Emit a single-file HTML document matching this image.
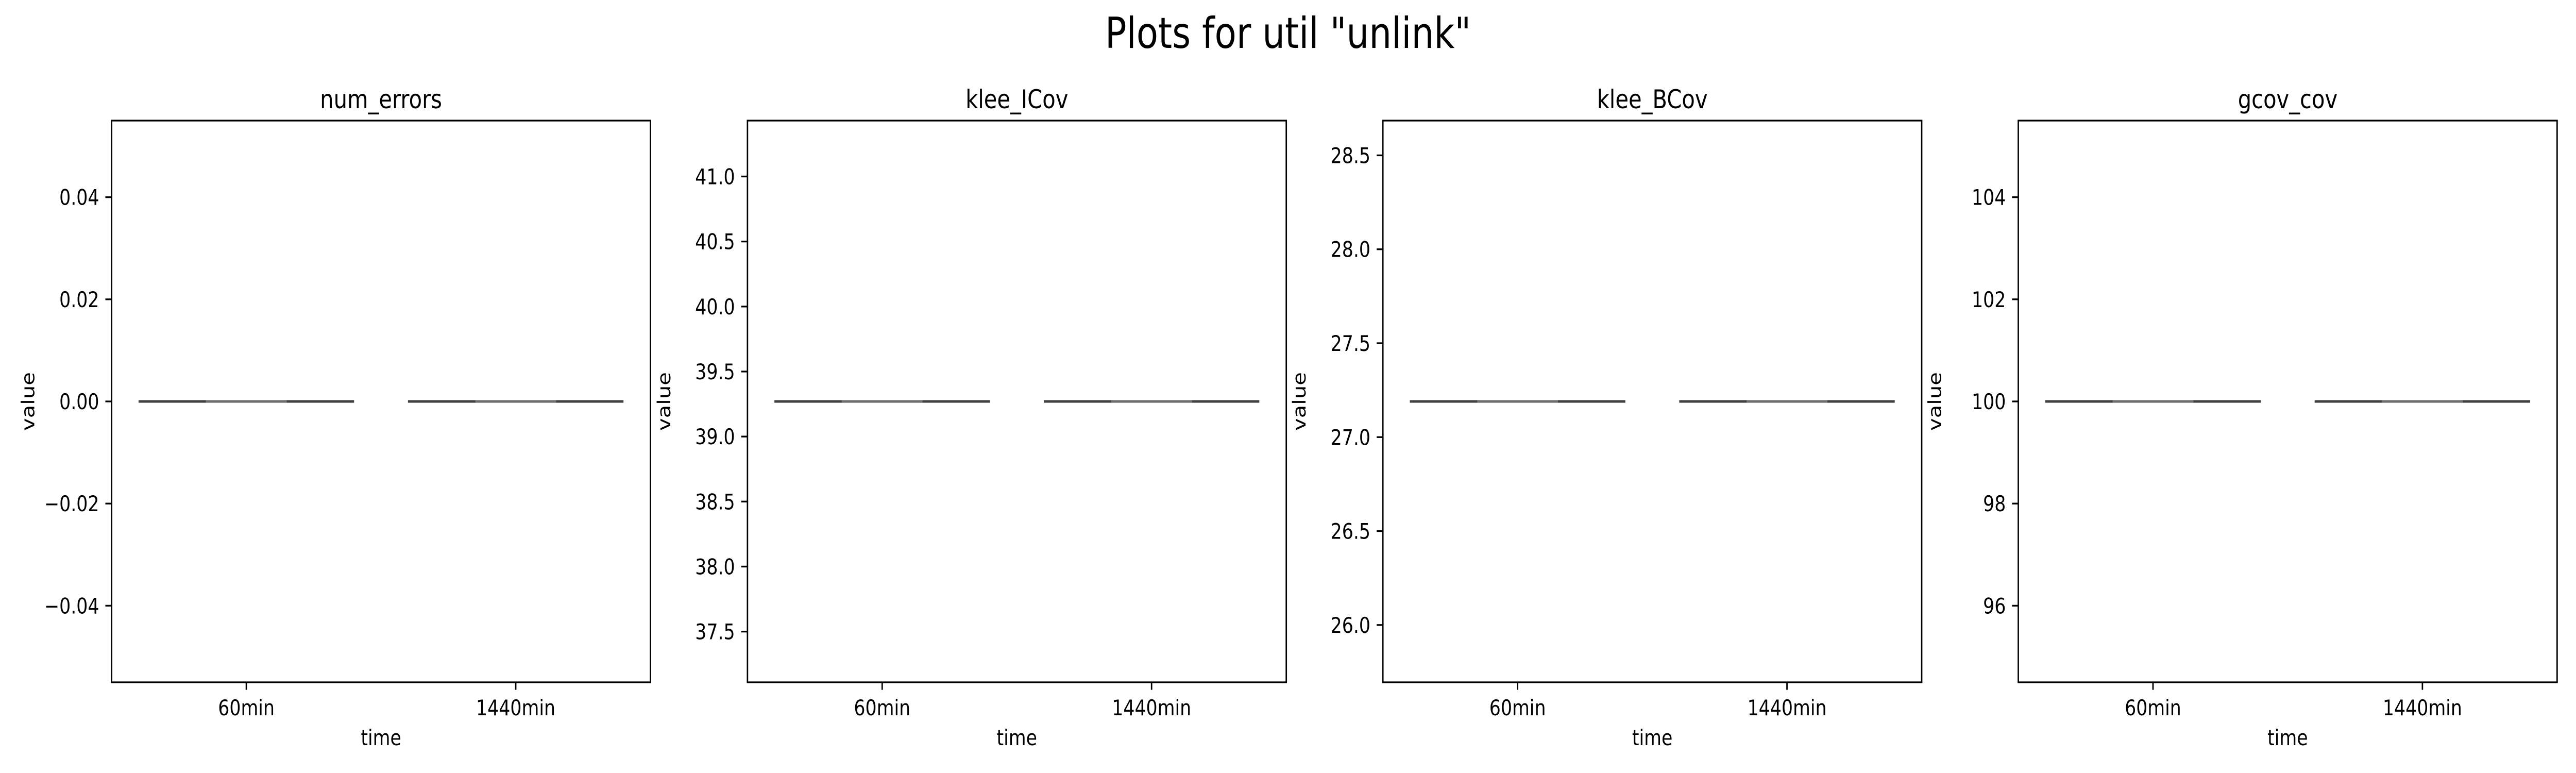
<!DOCTYPE html>
<html><head><meta charset="utf-8"><style>
html,body{margin:0;padding:0;background:#fff;overflow:hidden;width:100%;height:100%;}
svg{display:block;width:100vw;height:100vh;font-family:"DejaVu Sans","Liberation Sans",sans-serif;}
</style></head><body>
<svg id="fig" viewBox="0 0 6000 1500" preserveAspectRatio="none" xmlns="http://www.w3.org/2000/svg">
<rect width="6000" height="1500" fill="#fff"/>
<text x="3000" y="93" font-size="83" text-anchor="middle" fill="#000">Plots for util "unlink"</text>
</svg>
<script>
const panelTitles = ["num_errors", "klee_ICov", "klee_BCov", "gcov_cov"];
const categories = ["60min", "1440min"];
const values60 = [0, 39.27, 27.19, 100];
const values1440 = [0, 39.27, 27.19, 100];
const yTickLabels = [
  ["\u22120.04", "\u22120.02", "0.00", "0.02", "0.04"],
  ["37.5", "38.0", "38.5", "39.0", "39.5", "40.0", "40.5", "41.0"],
  ["26.0", "26.5", "27.0", "27.5", "28.0", "28.5"],
  ["96", "98", "100", "102", "104"]
];
const yTickValues = [
  [-0.04, -0.02, 0, 0.02, 0.04],
  [37.5, 38.0, 38.5, 39.0, 39.5, 40.0, 40.5, 41.0],
  [26.0, 26.5, 27.0, 27.5, 28.0, 28.5],
  [96, 98, 100, 102, 104]
];
const yMin = [-0.055, 37.11, 25.695, 94.5];
const yMax = [0.055, 41.43, 28.685, 105.5];

const NS = "http://www.w3.org/2000/svg";
const svg = document.getElementById("fig");
function mk(tag, attrs, parent) {
  const e = document.createElementNS(NS, tag);
  for (const k in attrs) e.setAttribute(k, attrs[k]);
  (parent || svg).appendChild(e);
  return e;
}
const axLefts = [260, 1741, 3221, 4701];
const axW = 1255, axTop = 234, axBot = 1324;

panelTitles.forEach((title, i) => {
  const L = axLefts[i];
  const g = mk("g", {});
  
  
  const yS = v => axBot - (v - yMin[i]) / (yMax[i] - yMin[i]) * (axBot - axTop);
  const xS = c => L + (c + 0.5) / categories.length * axW;
  const band = axW / categories.length;

  const vals = [values60[i], values1440[i]];
  categories.forEach((cat, c) => {
    const cx = xS(c), y = yS(vals[c]);
    const ln = mk("line", {x1: cx - band * 0.4, x2: cx + band * 0.4, y1: y, y2: y, stroke: "#404040", "stroke-width": 5}, g);
    
    
    const inner = mk("line", {x1: cx - band * 0.15, x2: cx + band * 0.15, y1: y, y2: y, stroke: "#c8c8c8", "stroke-width": 6, "stroke-opacity": 0.35}, g);
    
    

    const tk = mk("line", {x1: cx, x2: cx, y1: axBot, y2: axBot + 14.6, stroke: "#000", "stroke-width": 3.3}, g);
    
    
    const tl = mk("text", {x: cx, y: axBot + 64, "font-size": 41.7, "text-anchor": "middle", fill: "#000"}, g);
    tl.textContent = cat;
    
    
  });

  yTickValues[i].forEach((v, k) => {
    const y = yS(v);
    const tk = mk("line", {x1: L - 14.6, x2: L, y1: y, y2: y, stroke: "#000", "stroke-width": 3.3}, g);
    
    
    const tl = mk("text", {x: L - 29, y: y + 15, "font-size": 41.7, "text-anchor": "end", fill: "#000"}, g);
    tl.textContent = yTickLabels[i][k];
    
    
  });

  const frame = mk("rect", {x: L, y: axTop, width: axW, height: axBot - axTop, fill: "none", stroke: "#000", "stroke-width": 3.3}, g);
  
  

  const t = mk("text", {x: L + axW / 2, y: 210, "font-size": 50, "text-anchor": "middle", fill: "#000"}, g);
  t.textContent = title;
  
  

  const xl = mk("text", {x: L + axW / 2, y: 1446, "font-size": 41.7, "text-anchor": "middle", fill: "#000"}, g);
  xl.textContent = "time";
  
  

  const ylx = (i === 0 ? 80 : L - 180);
  const yl = mk("text", {x: ylx, y: 779, "font-size": 41.7, "text-anchor": "middle", fill: "#000", transform: "rotate(-90 " + ylx + " 779)"}, g);
  yl.textContent = "value";
  
  
});
</script>
</body></html>
